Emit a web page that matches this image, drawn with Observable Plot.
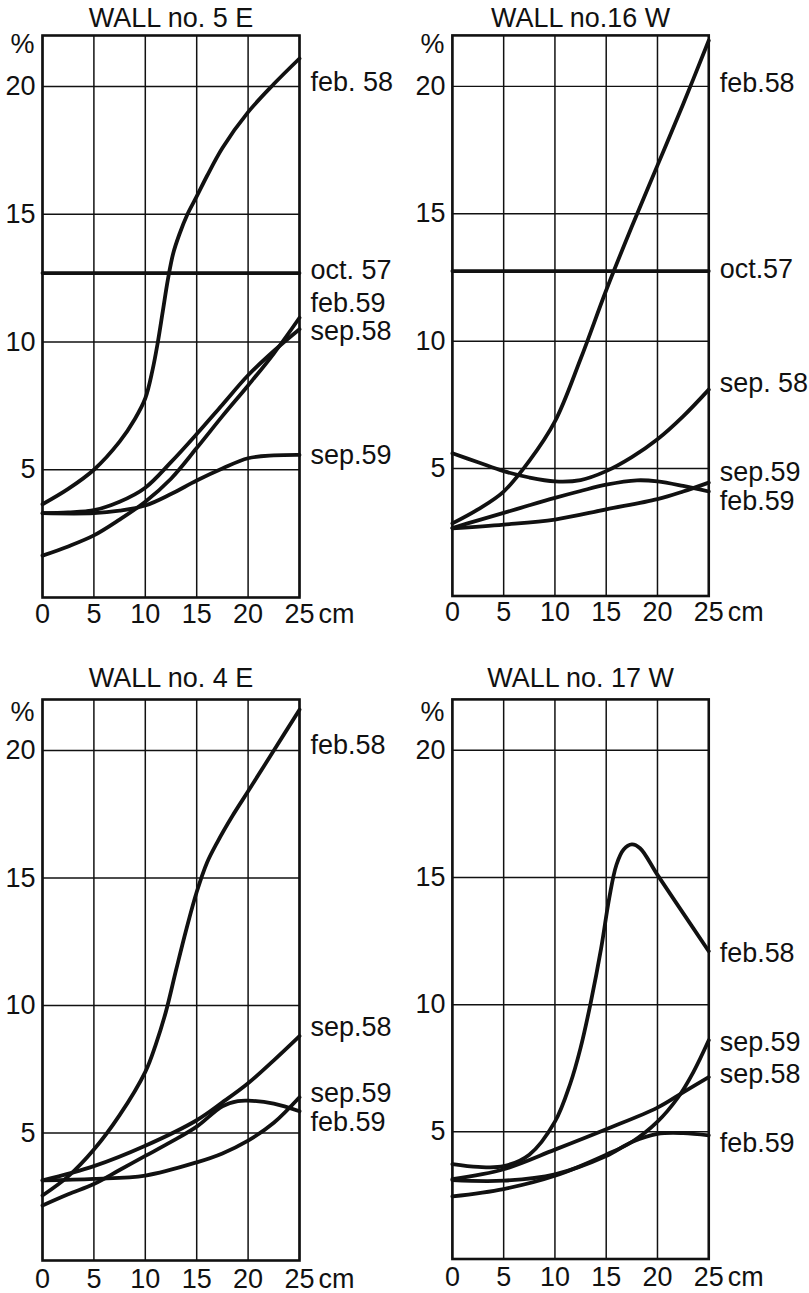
<!DOCTYPE html>
<html><head><meta charset="utf-8">
<script src="https://cdn.jsdelivr.net/npm/d3@7"></script>
<script src="https://cdn.jsdelivr.net/npm/@observablehq/plot@0.6"></script>
<style>
html,body{margin:0;padding:0;background:#fff;}
#root{position:relative;width:809px;height:1293px;overflow:hidden;background:#fff;}
.panel{position:absolute;}
</style></head><body><div id="root"></div>
<script>
// ---- axes ----
const depthTicks = [0, 5, 10, 15, 20, 25];      // cm
const moistureTicks = [5, 10, 15, 20];          // %
const depthUnit = "cm";
const moistureUnit = "%";
const panelTitles = ["WALL no. 5 E", "WALL no.16 W", "WALL no. 4 E", "WALL no. 17 W"];

// ---- WALL no. 5 E ----  [depth cm, moisture %]
const w5E_feb58 = [[0,3.65],[2.5,4.25],[5,5.0],[7.5,6.1],[9,7.0],[10,7.8],[10.7,8.9],[11.2,9.95],[11.7,11.2],[12.2,12.45],[12.7,13.45],[13.3,14.2],[14.1,15.0],[15,15.7],[16,16.5],[17.5,17.6],[20,19.0],[22.5,20.1],[25,21.1]];
const w5E_oct57 = [[0,12.7],[25,12.7]];
const w5E_feb59 = [[0,1.64],[2.5,2.0],[5,2.43],[7.5,3.05],[10,3.75],[12.5,4.65],[15,5.85],[17.5,7.1],[20,8.3],[22.5,9.55],[25,10.95]];
const w5E_sep58 = [[0,3.3],[2.5,3.33],[5,3.42],[7.5,3.75],[10,4.3],[12.5,5.3],[15,6.4],[17.5,7.55],[20,8.7],[22.5,9.65],[25,10.5]];
const w5E_sep59 = [[0,3.3],[5,3.3],[7.5,3.4],[10,3.6],[12.5,4.05],[15,4.58],[17.5,5.05],[20,5.45],[22.5,5.56],[25,5.58]];
const w5E_labels = [["feb. 58",20.15],["oct. 57",12.8],["feb.59",11.5],["sep.58",10.4],["sep.59",5.55]];

// ---- WALL no.16 W ----
const w16W_feb58 = [[0,2.85],[2.5,3.4],[5,4.1],[7.5,5.3],[10,6.85],[12.5,9.3],[15,12.0],[17.5,14.5],[20,16.9],[22.5,19.3],[25,21.8]];
const w16W_oct57 = [[0,12.75],[25,12.75]];
const w16W_sep58 = [[0,5.6],[2.5,5.25],[5,4.9],[7.5,4.65],[10,4.5],[12.5,4.55],[15,4.9],[17.5,5.45],[20,6.15],[22.5,7.05],[25,8.1]];
const w16W_sep59 = [[0,2.67],[2.5,2.97],[5,3.26],[7.5,3.56],[10,3.85],[12.5,4.12],[15,4.37],[18,4.54],[20,4.5],[22.5,4.32],[25,4.1]];
const w16W_feb59 = [[0,2.65],[5,2.8],[10,3.0],[15,3.4],[20,3.8],[22.5,4.1],[25,4.45]];
const w16W_labels = [["feb.58",20.1],["oct.57",12.8],["sep. 58",8.35],["sep.59",4.85],["feb.59",3.7]];

// ---- WALL no. 4 E ----
const w4E_feb58 = [[0,2.55],[2.5,3.3],[5,4.35],[7.5,5.7],[10,7.4],[11,8.45],[12,9.75],[13,11.4],[14,13.0],[15,14.45],[16,15.6],[17,16.4],[18.5,17.45],[20,18.4],[22.5,20.0],[25,21.6]];
const w4E_sep58 = [[0,3.14],[5,3.7],[10,4.5],[15,5.5],[17.5,6.2],[20,6.95],[22.5,7.85],[25,8.8]];
const w4E_sep59 = [[0,3.14],[5,3.2],[10,3.33],[15,3.85],[17.5,4.2],[20,4.7],[22.5,5.4],[25,6.4]];
const w4E_feb59 = [[0,2.16],[2.5,2.6],[5,3.0],[7.5,3.55],[10,4.1],[12.5,4.65],[15,5.25],[17.5,6.05],[19,6.25],[20,6.27],[22.5,6.15],[25,5.85]];
const w4E_labels = [["feb.58",20.2],["sep.58",9.15],["sep.59",6.55],["feb.59",5.4]];

// ---- WALL no. 17 W ----
const w17W_feb58 = [[0,3.73],[2.5,3.62],[5,3.65],[7.5,4.1],[10,5.4],[11.5,6.9],[12.5,8.3],[13.5,10.1],[14.5,12.2],[15.3,14.2],[16,15.5],[16.7,16.1],[17.5,16.3],[18.3,16.15],[20,15.1],[22.5,13.6],[25,12.1]];
const w17W_sep59 = [[0,2.46],[5,2.75],[10,3.27],[15,4.1],[17.5,4.6],[20,5.4],[22,6.35],[23.5,7.35],[25,8.6]];
const w17W_sep58 = [[0,3.14],[5,3.53],[10,4.3],[15,5.1],[20,5.95],[22.5,6.55],[25,7.15]];
const w17W_feb59 = [[0,3.1],[5,3.08],[10,3.33],[15,4.05],[17.5,4.6],[20,4.92],[22.5,4.95],[25,4.86]];
const w17W_labels = [["feb.58",12.0],["sep.59",8.5],["sep.58",7.25],["feb.59",4.55]];

const ink = "#111";

function panel(title, series, labels, o) {
  const rows = [];
  for (const [name, pts] of series) for (const [d, v] of pts) rows.push({name, d, v});
  const labelRows = labels.map(([text, v]) => ({text, v}));
  return Plot.plot({
    width: 400, height: o.height,
    marginLeft: 42, marginRight: 101, marginTop: o.mt, marginBottom: o.mb,
    style: {fontFamily: "'Liberation Sans', Arial, sans-serif", fontSize: "27px", color: ink, background: "transparent", overflow: "visible"},
    x: {domain: [0, 25], ticks: depthTicks, tickSize: 0, tickPadding: o.tp, label: null},
    y: {domain: [0, 22], ticks: moistureTicks, tickSize: 0, tickPadding: 7, label: null},
    marks: [
      Plot.ruleX(depthTicks, {stroke: ink, strokeWidth: 1.5}),
      Plot.ruleY(moistureTicks, {stroke: ink, strokeWidth: 1.5}),
      Plot.frame({stroke: ink, strokeWidth: 2.6}),
      Plot.line(rows, {x: "d", y: "v", z: "name", curve: "catmull-rom", stroke: ink, strokeWidth: 3.8, strokeLinecap: "round", strokeLinejoin: "round"}),
      Plot.text(labelRows, {y: "v", text: "text", frameAnchor: "right", textAnchor: "start", dx: 11, fill: ink}),
      Plot.text([title], {frameAnchor: "top", dy: o.titleDy, lineAnchor: "middle", fill: ink}),
      Plot.text([moistureUnit], {frameAnchor: "top-left", dx: -20, dy: o.pctDy, textAnchor: "middle", lineAnchor: "middle", fill: ink}),
      Plot.text([depthUnit], {x: [depthTicks[depthTicks.length - 1]], frameAnchor: "bottom", textAnchor: "start", lineAnchor: "top", dx: 19, dy: o.tp, fill: ink})
    ]
  });
}

const root = document.getElementById("root");
function place(svg, left, top) {
  const div = document.createElement("div");
  div.className = "panel";
  div.style.left = left + "px";
  div.style.top = top + "px";
  div.appendChild(svg);
  root.appendChild(div);
}
const topRow = {height: 640, mt: 35, mb: 43, tp: 6, titleDy: -17, pctDy: 9};
const botRow = {height: 631, mt: 37, mb: 33, tp: 8, titleDy: -21, pctDy: 13};

place(panel(panelTitles[0], [["feb58", w5E_feb58], ["oct57", w5E_oct57], ["feb59", w5E_feb59], ["sep58", w5E_sep58], ["sep59", w5E_sep59]], w5E_labels, topRow), 0, 0);
place(panel(panelTitles[1], [["feb58", w16W_feb58], ["oct57", w16W_oct57], ["sep58", w16W_sep58], ["sep59", w16W_sep59], ["feb59", w16W_feb59]], w16W_labels, topRow), 410, 0);
place(panel(panelTitles[2], [["feb58", w4E_feb58], ["sep58", w4E_sep58], ["sep59", w4E_sep59], ["feb59", w4E_feb59]], w4E_labels, botRow), 0, 662);
place(panel(panelTitles[3], [["feb58", w17W_feb58], ["sep59", w17W_sep59], ["sep58", w17W_sep58], ["feb59", w17W_feb59]], w17W_labels, botRow), 410, 662);
</script></body></html>
